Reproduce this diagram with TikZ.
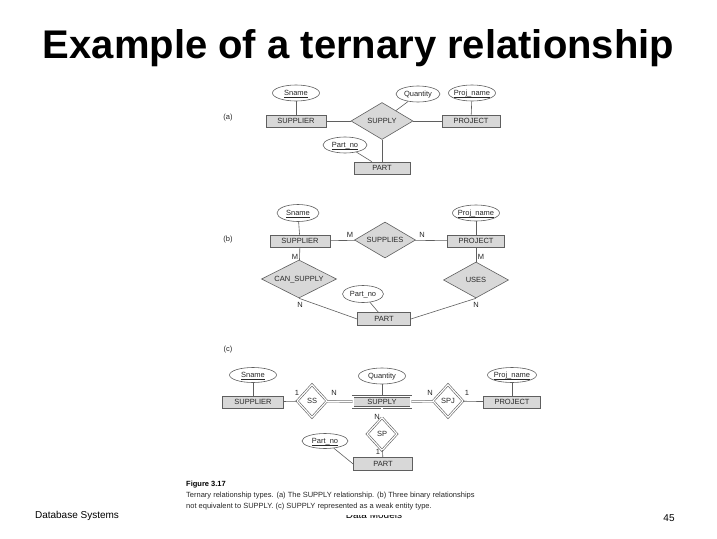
\documentclass[tikz,border=0pt]{standalone}
\usepackage{fontspec}
\setmainfont{Liberation Sans}
\usetikzlibrary{shapes.geometric}
\definecolor{entgray}{RGB}{216,216,216}
\definecolor{lgray}{RGB}{95,95,95}
\definecolor{tgray}{RGB}{40,40,40}
\newcommand\dfont{\fontsize{7.5}{9}\selectfont}
\newcommand\zb[1]{\makebox[0pt][c]{#1}}
\newcommand\kl[1]{\setbox0\hbox{#1}\rlap{\rule[-1.3pt]{\wd0}{0.4pt}}\box0}
\begin{document}
\begin{tikzpicture}[x=1pt,y=-1pt,
  ent/.style={rectangle, draw=lgray, fill=entgray, line width=0.6pt, minimum width=60pt, minimum height=12pt, inner sep=0pt, font=\dfont, text=tgray, text height=5.4pt, text depth=0pt},
  wkent/.style={ent, double, double distance=1.2pt},
  rel/.style={diamond, draw=lgray, fill=entgray, line width=0.6pt, inner sep=0pt, font=\dfont, text=tgray, text height=5.4pt, text depth=0pt},
  wkrel/.style={rel, fill=white, double, double distance=1.2pt, minimum width=30pt, minimum height=33pt},
  attr/.style={ellipse, draw=lgray, fill=white, line width=0.6pt, minimum width=44pt, minimum height=16pt, inner sep=0pt, font=\dfont, text=tgray, text height=5.4pt, text depth=0pt},
  conn/.style={draw=lgray, line width=0.6pt},
  dconn/.style={draw=lgray, line width=0.5pt, double, double distance=1.2pt},
  lab/.style={font=\dfont, text=tgray, inner sep=0pt, text height=5.4pt, text depth=0pt},
  part/.style={font=\fontsize{7.5}{9}\selectfont, text=tgray, inner sep=0pt}
]
\useasboundingbox (0,0) rectangle (717,538);
\fill[white] (0,0) rectangle (717,538);

% title
\node[font=\fontsize{40}{44}\selectfont\bfseries, inner sep=0pt] (title) at (358.5,48) {Example of a ternary relationship};

% ---------- (a)
\node[part] (la) at (228,118) {(a)};
\node[attr,minimum width=47] (aSn) at (296,93) {\zb{\kl{Sname}}};
\node[attr,minimum width=44] (aQt) at (418,94) {\zb{Quantity}};
\node[attr,minimum width=47] (aPj) at (472,93) {\zb{\kl{Proj\_name}}};
\node[ent] (aSup) at (296,121) {SUPPLIER};
\node[rel,minimum width=62,minimum height=37] (aSy) at (382,121) {\zb{SUPPLY}};
\node[ent,minimum width=58] (aPr) at (471,121) {PROJECT};
\node[attr,minimum width=44] (aPn) at (345,145) {\zb{\kl{Part\_no}}};
\node[ent,minimum width=56] (aPa) at (382,168) {PART};
\draw[conn] (aSn) -- (aSup);
\draw[conn] (aSup) -- (aSy);
\draw[conn] (aSy) -- (aPr);
\draw[conn] (aQt) -- (aSy);
\draw[conn] (aPj) -- (aPr);
\draw[conn] (aSy) -- (aPa);
\draw[conn] (aPn) -- (aPa);

% ---------- (b)
\node[part] (lb) at (228,240) {(b)};
\node[attr,minimum width=42,minimum height=17] (bSn) at (298,213) {\zb{\kl{Sname}}};
\node[attr,minimum width=47] (bPj) at (476,213) {\zb{\kl{Proj\_name}}};
\node[ent] (bSup) at (300,241) {SUPPLIER};
\node[rel,minimum width=61,minimum height=36] (bSs) at (385,240) {\zb{SUPPLIES}};
\node[ent,minimum width=57] (bPr) at (476,241) {PROJECT};
\node[rel,minimum width=75,minimum height=38] (bCs) at (299,279) {\zb{CAN\_SUPPLY}};
\node[rel,minimum width=65,minimum height=36] (bUs) at (476,280) {\zb{USES}};
\node[attr,minimum width=41,minimum height=17] (bPn) at (363,294) {\zb{Part\_no}};
\node[ent,minimum width=53,minimum height=13] (bPa) at (384,319) {PART};
\draw[conn] (bSn) -- (bSup);
\draw[conn] (bPj) -- (bPr);
\draw[conn] (bSup) -- (bSs);
\draw[conn] (bSs) -- (bPr);
\draw[conn] (bSup) -- (bCs);
\draw[conn] (bPr) -- (bUs);
\draw[conn] (bCs.south) -- (bPa.west);
\draw[conn] (bUs.south) -- (bPa.east);
\draw[conn] (bPn) -- (bPa);
\node[lab] (bM1) at (350,235) {M};
\node[lab] (bN1) at (422,235) {N};
\node[lab] (bM2) at (295,257) {M};
\node[lab] (bM3) at (481,257) {M};
\node[lab] (bN2) at (300,305) {N};
\node[lab] (bN3) at (476,305) {N};

% ---------- (c)
\node[part] (lc) at (228,350) {(c)};
\node[attr,minimum width=47,minimum height=15] (cSn) at (253,375) {\zb{\kl{Sname}}};
\node[attr,minimum width=47,minimum height=16] (cQt) at (382,376) {\zb{Quantity}};
\node[attr,minimum width=49,minimum height=15] (cPj) at (512,375) {\zb{\kl{Proj\_name}}};
\node[ent,minimum width=61] (cSup) at (253,402) {SUPPLIER};
\node[wkrel] (cSS) at (312,401) {\zb{SS}};
\node[wkent,minimum width=58,minimum height=11] (cSy) at (382,402) {SUPPLY};
\node[wkrel] (cSPJ) at (448,401) {\zb{SPJ}};
\node[ent,minimum width=57] (cPr) at (512,402) {PROJECT};
\node[wkrel] (cSP) at (382,434) {\zb{SP}};
\node[attr,minimum width=46,minimum height=15] (cPn) at (325,441) {\zb{\kl{Part\_no}}};
\node[ent,minimum width=59,minimum height=13] (cPa) at (383,464) {PART};
\draw[conn] (cSn) -- (cSup);
\draw[conn] (cQt) -- (cSy);
\draw[conn] (cPj) -- (cPr);
\draw[conn] (cSup) -- (cSS);
\draw[dconn] (cSS) -- (cSy);
\draw[dconn] (cSy) -- (cSPJ);
\draw[conn] (cSPJ) -- (cPr);
\draw[dconn] (cSy) -- (cSP);
\draw[conn] (cSP) -- (cPa);
\draw[conn] (cPn) -- (cPa.west);
\node[lab] (cL1) at (297,393) {1};
\node[lab] (cL2) at (334,393) {N};
\node[lab] (cL3) at (430,393) {N};
\node[lab] (cL4) at (467,393) {1};
\node[lab] (cL5) at (377,417) {N};
\node[lab] (cL6) at (378,452) {1};

% ---------- footer
\node[font=\fontsize{10}{12}\selectfont, inner sep=0pt] (ftl) at (77,516) {Database Systems};
\node[font=\fontsize{10}{12}\selectfont, inner sep=0pt] (ftc) at (374,515) {Data Models};
\node[font=\fontsize{10}{12}\selectfont, inner sep=0pt] (ftr) at (669,518) {45};
\fill[white] (180,476) rectangle (495,514.5);
\node[anchor=west, font=\fontsize{7.5}{8}\selectfont\bfseries, inner sep=0pt] (fig) at (186,485) {Figure 3.17};
\node[anchor=west, font=\fontsize{7.5}{8}\selectfont, text=tgray, inner sep=0pt] (cap1) at (186,496) {Ternary relationship types. (a) The SUPPLY relationship. (b) Three binary relationships};
\node[anchor=west, font=\fontsize{7.5}{8}\selectfont, text=tgray, inner sep=0pt] (cap2) at (186,507) {not equivalent to SUPPLY. (c) SUPPLY represented as a weak entity type.};
\end{tikzpicture}
\end{document}
